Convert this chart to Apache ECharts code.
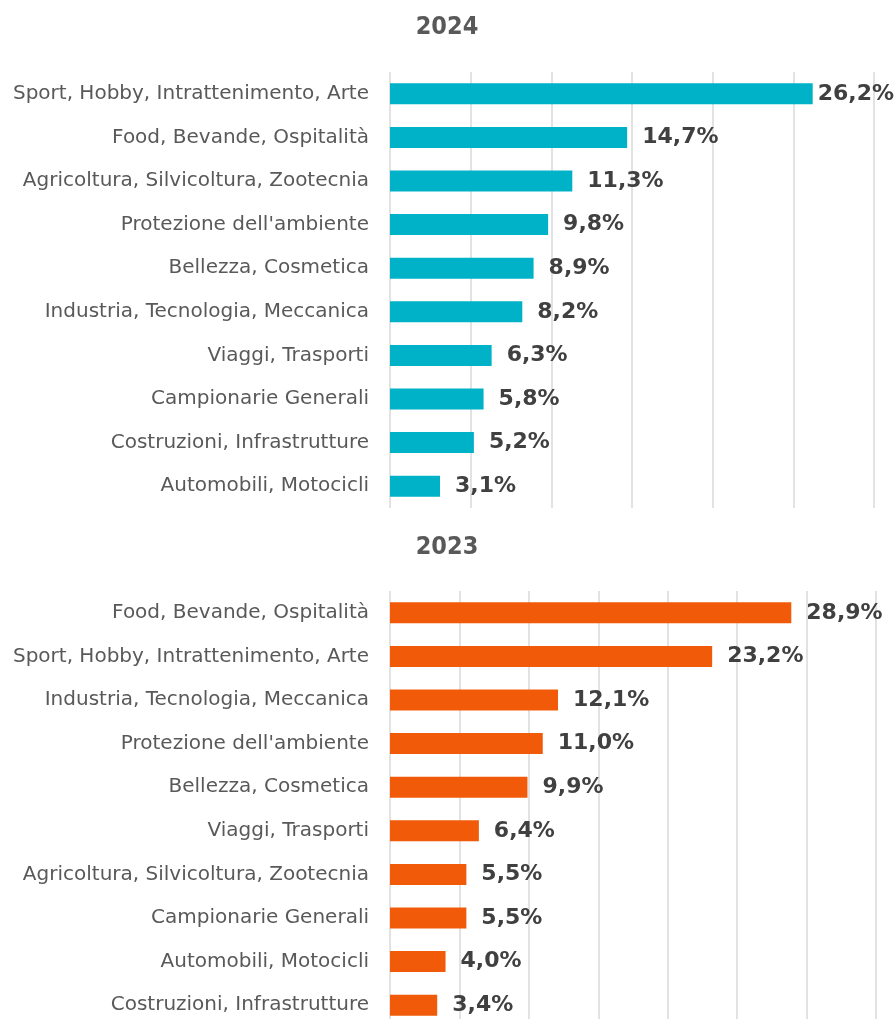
<!DOCTYPE html>
<html>
<head>
<meta charset="utf-8">
<script src="https://cdn.jsdelivr.net/npm/echarts@6/dist/echarts.min.js"></script>
<style>
html,body{margin:0;padding:0;background:#fff;overflow:hidden;height:1019px;}
#chart{width:894px;height:1040px;}
</style>
</head>
<body>
<div id="chart"></div>
<script>
const title2024 = '2024';
const categories2024 = [
  'Sport, Hobby, Intrattenimento, Arte',
  'Food, Bevande, Ospitalità',
  'Agricoltura, Silvicoltura, Zootecnia',
  "Protezione dell'ambiente",
  'Bellezza, Cosmetica',
  'Industria, Tecnologia, Meccanica',
  'Viaggi, Trasporti',
  'Campionarie Generali',
  'Costruzioni, Infrastrutture',
  'Automobili, Motocicli'
];
const values2024 = [26.2, 14.7, 11.3, 9.8, 8.9, 8.2, 6.3, 5.8, 5.2, 3.1];

const title2023 = '2023';
const categories2023 = [
  'Food, Bevande, Ospitalità',
  'Sport, Hobby, Intrattenimento, Arte',
  'Industria, Tecnologia, Meccanica',
  "Protezione dell'ambiente",
  'Bellezza, Cosmetica',
  'Viaggi, Trasporti',
  'Agricoltura, Silvicoltura, Zootecnia',
  'Campionarie Generali',
  'Automobili, Motocicli',
  'Costruzioni, Infrastrutture'
];
const values2023 = [28.9, 23.2, 12.1, 11.0, 9.9, 6.4, 5.5, 5.5, 4.0, 3.4];

const fmt = v => v.toFixed(1).replace('.', ',') + '%';
const FONT = 'DejaVu Sans';
const TITLE_FONT = '"DejaVu Sans Condensed", "DejaVu Sans"';

function valueAxis(gi, max) {
  return {
    type: 'value', gridIndex: gi, min: 0, max: max, interval: 5,
    axisLabel: {show: false}, axisLine: {show: false}, axisTick: {show: false},
    splitLine: {show: true, lineStyle: {color: '#d9d9d9', width: 1.5}}
  };
}
function catAxis(gi, cats) {
  return {
    type: 'category', gridIndex: gi, data: cats, inverse: true,
    axisLine: {show: false}, axisTick: {show: false},
    axisLabel: {color: '#595959', fontFamily: FONT, fontSize: 20, margin: 21}
  };
}
function barSeries(gi, vals, color, firstDist) {
  return {
    type: 'bar', xAxisIndex: gi, yAxisIndex: gi, barWidth: 21,
    itemStyle: {color: color},
    label: {
      show: true, position: 'right', distance: 15,
      color: '#404040', fontFamily: FONT, fontWeight: 'bold', fontSize: 22,
      formatter: p => fmt(p.value)
    },
    data: vals.map((v, i) => (i === 0 && firstDist != null)
      ? {value: v, label: {distance: firstDist}} : v)
  };
}

const chart = echarts.init(document.getElementById('chart'), null, {renderer: 'canvas'});
chart.setOption({
  animation: false,
  backgroundColor: '#fff',
  title: [
    {text: title2024, left: 'center', top: 10,
     textStyle: {color: '#595959', fontFamily: TITLE_FONT, fontWeight: 'bold', fontSize: 25}},
    {text: title2023, left: 'center', top: 530,
     textStyle: {color: '#595959', fontFamily: TITLE_FONT, fontWeight: 'bold', fontSize: 25}}
  ],
  grid: [
    {left: 390, right: 20, top: 72, height: 436},
    {left: 390, right: 18, top: 591, height: 436}
  ],
  xAxis: [valueAxis(0, 30), valueAxis(1, 35)],
  yAxis: [catAxis(0, categories2024), catAxis(1, categories2023)],
  series: [
    barSeries(0, values2024, '#00B2C8', 5),
    barSeries(1, values2023, '#F05A08', null)
  ]
});
</script>
</body>
</html>
